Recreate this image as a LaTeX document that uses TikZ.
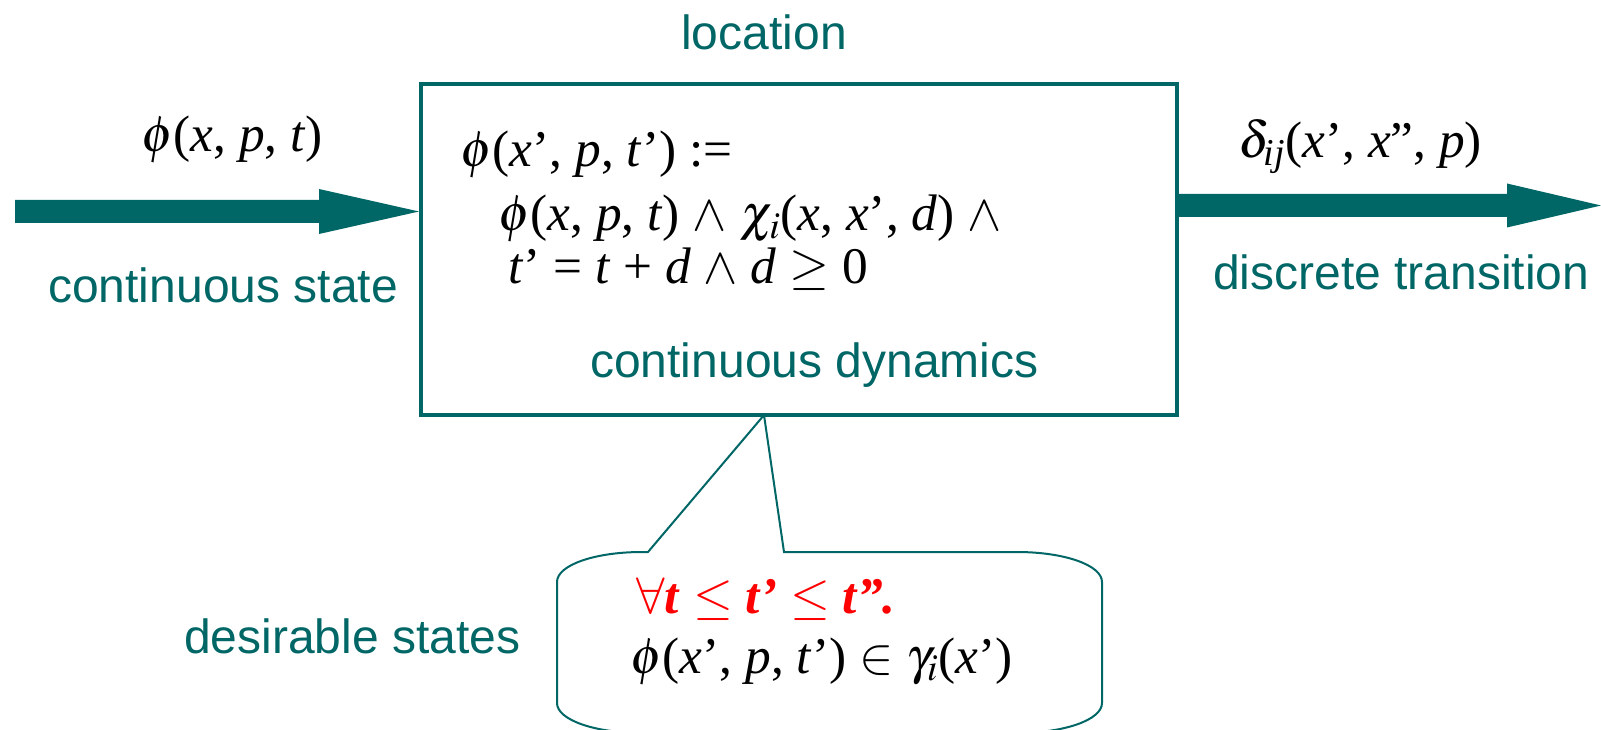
\documentclass[tikz,border=0pt]{standalone}
\usepackage{amsmath}
\usepackage{mathptmx}
\usepackage{fontspec}
\setmainfont{Liberation Serif}
\setsansfont{Liberation Sans}
\usetikzlibrary{calc}
\definecolor{tealz}{RGB}{0,102,102}
\newcommand{\iv}[1]{\textit{#1}}
\begin{document}
\begin{tikzpicture}[x=0.75pt,y=-0.75pt,
  lbl/.style={font=\sffamily\fontsize{36}{40}\selectfont, text=tealz, inner sep=0pt, anchor=base west},
  mth/.style={font=\fontsize{38.5}{40}\selectfont, inner sep=0pt, anchor=base west},
  fatarrow/.style={fill=tealz, draw=none},
  locbox/.style={draw=tealz, line width=3pt, minimum width=567pt, minimum height=248pt, inner sep=0pt, outer sep=0pt},
  bubble/.style={draw=tealz, line width=1.5pt, fill=white, line join=miter}]
\useasboundingbox (0,0) rectangle (1601,730);
\clip (0,0) rectangle (1601,730);

% location box
\node[locbox] (loc) at (799,249.75) {};
\node[lbl, anchor=base] (loclbl) at (764,50) {location};

% formula inside box
\node[mth] (f1) at (460,167) {$\phi$(\iv{x}’, \iv{p}, \iv{t}’) :=};
\node[mth] (f2) at (498,231) {$\phi$(\iv{x}, \iv{p}, \iv{t}) $\wedge$ $\chi_i$(\iv{x}, \iv{x}’, \iv{d}) $\wedge$};
\node[mth] (f3) at (508,284) {\iv{t}’ = \iv{t} + \iv{d} $\wedge$ \iv{d} $\geq$ 0};
\node[lbl] (dyn) at (590,378) {continuous dynamics};

% incoming arrow
\coordinate (inStart) at (15,211.5);
\coordinate (inTip) at ($(inStart -| loc.west)+(-2,0)$);
\fill[fatarrow] ($(inStart)+(0,-11.5)$) -- ($(inTip)+(-100,-11.5)$) -- ($(inTip)+(-100,-22.5)$)
  -- (inTip) -- ($(inTip)+(-100,22.5)$) -- ($(inTip)+(-100,11.5)$) -- ($(inStart)+(0,11.5)$) -- cycle;
\node[mth] (inlbl) at (141,152) {$\phi$(\iv{x}, \iv{p}, \iv{t})};
\node[lbl] (instate) at (48,303) {continuous state};

% outgoing arrow
\coordinate (outEnd) at (1601,205.5);
\coordinate (outStart) at (outEnd -| loc.east);
\fill[fatarrow] ($(outStart)+(0,-11.5)$) -- ($(outEnd)+(-94,-11.5)$) -- ($(outEnd)+(-94,-22)$)
  -- (outEnd) -- ($(outEnd)+(-94,22)$) -- ($(outEnd)+(-94,11.5)$) -- ($(outStart)+(0,11.5)$) -- cycle;
\node[mth] (outlbl) at (1238,158) {$\delta_{\textit{ij}}$(\iv{x}’, \iv{x}”, \iv{p})};
\node[lbl] (outtr) at (1213,290) {discrete transition};

% callout
\coordinate (tip) at ($(loc.south)+(-35,0)$);
\draw[bubble] (784,552) -- (1017,552) .. controls (1064,552) and (1102,565) .. (1102,582)
  -- (1102,703) .. controls (1102,720) and (1064,733) .. (1017,733)
  -- (642,733) .. controls (595,733) and (557,720) .. (557,703)
  -- (557,582) .. controls (557,565) and (595,552) .. (642,552)
  -- (648,552) -- (tip) -- cycle;
\node[mth, text=red] (c1) at (636,613) {$\forall$\textbf{\textit{t}} $\leq$ \textbf{\textit{t’}} $\leq$ \textbf{\textit{t”.}}};
\node[mth] (c2) at (630,673) {$\phi$(\iv{x}’, \iv{p}, \iv{t}’) $\in$ $\gamma_i$(\iv{x}’)};
\node[lbl] (des) at (184,653) {desirable states};
\end{tikzpicture}
\end{document}
